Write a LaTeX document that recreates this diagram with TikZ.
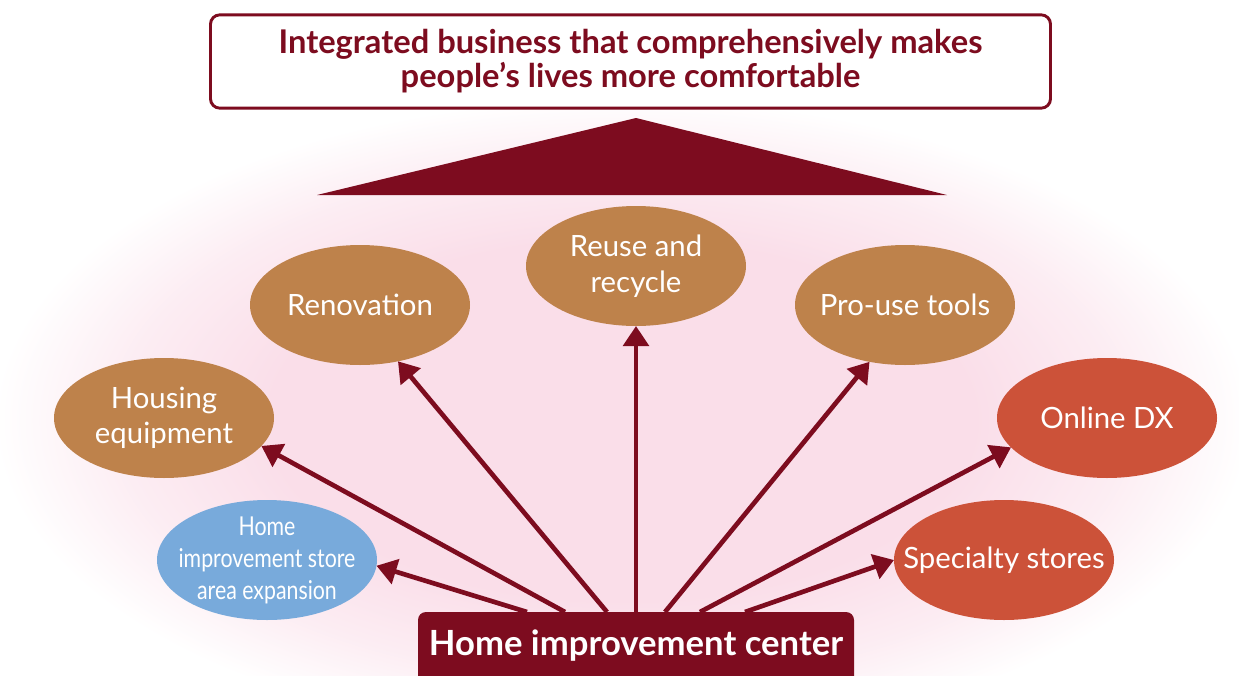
\documentclass[tikz,border=0pt]{standalone}
\usepackage{fontspec}
\setmainfont{Lato}
\newfontfamily\condfont[FakeStretch=0.82]{Lato}
\usetikzlibrary{shapes.geometric,arrows.meta,calc}
\definecolor{dred}{HTML}{7D0C1F}
\definecolor{tanc}{HTML}{BE824B}
\definecolor{orc}{HTML}{CC5239}
\definecolor{bluec}{HTML}{78AADB}
\definecolor{pinkc}{RGB}{250,222,233}
\pgfdeclareradialshading{bgfade}{\pgfpoint{0bp}{0bp}}{color(0bp)=(pinkc); color(14bp)=(pinkc); color(20bp)=(pinkc!55!white); color(25bp)=(white); color(50bp)=(white)}
\begin{document}
\begin{tikzpicture}[x=0.75pt,y=-0.75pt,
  bubble/.style={ellipse, minimum width=165pt, minimum height=90pt, inner sep=-60pt, outer sep=0pt, text=white, align=center, font=\fontsize{22}{26}\selectfont},
  tanb/.style={bubble, fill=tanc},
  orb/.style={bubble, fill=orc},
  blueb/.style={bubble, fill=bluec, font=\condfont\fontsize{19.5}{24}\selectfont},
  arr/.style={draw=dred, line width=3.5pt, -{Triangle[length=15pt,width=19pt]}},
  goalbox/.style={draw=dred, line width=2.2pt, fill=white, rounded corners=7pt, minimum width=630pt, minimum height=70pt, inner sep=0pt, align=center, text=dred, font=\bfseries\fontsize{24.5}{25.5}\selectfont},
  basebox/.style={fill=dred, rounded corners=6pt, minimum width=327pt, minimum height=60pt, inner sep=0pt, outer sep=0pt, text=white, font=\bfseries\fontsize{26}{30}\selectfont, text height=17pt, text depth=12.5pt}
]
\useasboundingbox (0,0) rectangle (1239,675);
\clip (0,0) rectangle (1239,675);
\fill[white] (0,0) rectangle (1239,675);
\shade[shading=bgfade] (622,420) ellipse [x radius=628, y radius=322];

\node[goalbox] (goal) at (630.5,61.5) {Integrated business that comprehensively makes\\people’s lives more comfortable};
\fill[dred] (636,118) -- (947,195) -- (317,195) -- cycle;

\node[tanb] (renov) at (360,305) {Renovation};
\node[tanb, font=\fontsize{22}{27}\selectfont] (reuse) at (636,266) {Reuse and\\recycle};
\node[tanb] (pro) at (905,305) {Pro-use tools};
\node[tanb] (house) at (164,418) {Housing\\equipment};
\node[orb] (online) at (1107,418) {Online DX};
\node[orb] (spec) at (1004,560) {Specialty stores};
\node[blueb] (expand) at (267,560) {Home\\improvement store\\area expansion};

\node[basebox, anchor=north] (hic) at (636,612) {Home improvement center};

\draw[arr] ($(hic.north)+(-109,0)$) -- (expand.-3);
\draw[arr] ($(hic.north)+(-71,0)$) -- (house.-16);
\draw[arr] ($(hic.north)+(-29,0)$) -- (renov.-56);
\draw[arr] (hic.north) -- (reuse.south);
\draw[arr] ($(hic.north)+(29,0)$) -- (pro.-122);
\draw[arr] ($(hic.north)+(64,0)$) -- (online.-163);
\draw[arr] ($(hic.north)+(109,0)$) -- (spec.west);
\end{tikzpicture}
\end{document}
